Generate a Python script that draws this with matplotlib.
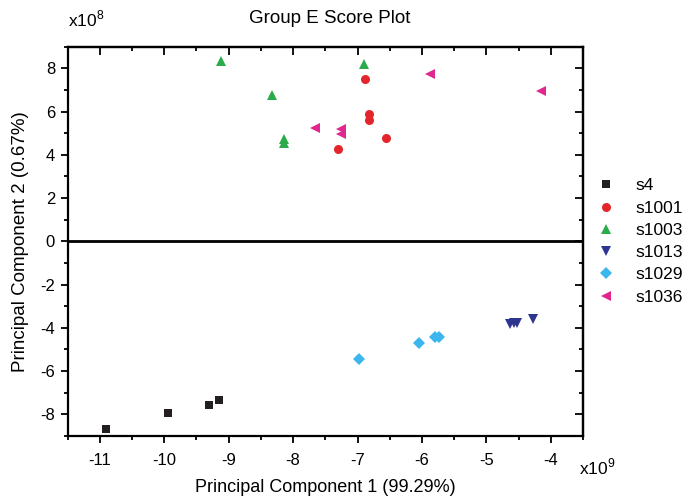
import matplotlib
matplotlib.use("Agg")
import matplotlib.pyplot as plt
from matplotlib.ticker import MultipleLocator

plt.rcParams['font.family'] = ['Liberation Sans', 'DejaVu Sans']
plt.rcParams['mathtext.fontset'] = 'custom'
plt.rcParams['mathtext.rm'] = 'Liberation Sans'

# Data (PC1 in units of 1e9, PC2 in units of 1e8)
s4_x = [-10.91, -9.94, -9.30, -9.15]
s4_y = [-8.67, -7.92, -7.56, -7.33]
s1001_x = [-6.88, -6.82, -6.82, -6.56, -7.30]
s1001_y = [7.51, 5.89, 5.60, 4.78, 4.27]
s1003_x = [-9.12, -6.90, -8.33, -8.14, -8.14]
s1003_y = [8.33, 8.19, 6.76, 4.75, 4.54]
s1013_x = [-4.63, -4.58, -4.53, -4.28]
s1013_y = [-3.81, -3.79, -3.76, -3.61]
s1029_x = [-6.98, -6.05, -5.80, -5.74]
s1029_y = [-5.42, -4.69, -4.43, -4.41]
s1036_x = [-5.88, -4.16, -7.66, -7.25, -7.25]
s1036_y = [7.73, 6.94, 5.25, 5.19, 4.97]

series = [
    ("s4", s4_x, s4_y, "s", "#231f20", 6),
    ("s1001", s1001_x, s1001_y, "o", "#e3262b", 6.5),
    ("s1003", s1003_x, s1003_y, "^", "#2bab4a", 7),
    ("s1013", s1013_x, s1013_y, "v", "#2e3591", 7),
    ("s1029", s1029_x, s1029_y, "D", "#3db6ee", 6),
    ("s1036", s1036_x, s1036_y, "<", "#e0268f", 7),
]

fig = plt.figure(figsize=(6.94, 4.96), dpi=100)
ax = fig.add_axes([0.0973, 0.121, 0.743, 0.785])

for name, xs, ys, m, c, ms in series:
    ax.plot(xs, ys, linestyle='none', marker=m, color=c, markersize=ms,
            markeredgewidth=0, label=name)

ax.axhline(0, color='black', linewidth=2, zorder=1)

ax.set_xlim(-11.5, -3.5)
ax.set_ylim(-9, 9)
ax.xaxis.set_major_locator(MultipleLocator(1))
ax.xaxis.set_minor_locator(MultipleLocator(0.5))
ax.yaxis.set_major_locator(MultipleLocator(2))
ax.yaxis.set_minor_locator(MultipleLocator(1))
ax.set_xticks([-11, -10, -9, -8, -7, -6, -5, -4])
ax.set_xticklabels(['-11', '-10', '-9', '-8', '-7', '-6', '-5', '-4'])
ax.set_yticks([-8, -6, -4, -2, 0, 2, 4, 6, 8])
ax.set_yticklabels(['-8', '-6', '-4', '-2', '0', '2', '4', '6', '8'])

for sp in ax.spines.values():
    sp.set_linewidth(1.6)

ax.tick_params(axis='both', which='both', direction='out', width=1.3,
               labelsize=12, colors='black')
ax.tick_params(which='major', length=5)
ax.tick_params(which='minor', length=3)
ax.tick_params(axis='x', which='major', pad=7)
ax.tick_params(axis='y', which='major', pad=4)

# mirrored inward ticks on top/right
axt = ax.secondary_xaxis('top')
axt.xaxis.set_major_locator(MultipleLocator(1))
axt.xaxis.set_minor_locator(MultipleLocator(0.5))
axt.tick_params(which='both', direction='in', labeltop=False, width=1.3)
axt.tick_params(which='major', length=6)
axt.tick_params(which='minor', length=3)
axr = ax.secondary_yaxis('right')
axr.yaxis.set_major_locator(MultipleLocator(2))
axr.yaxis.set_minor_locator(MultipleLocator(1))
axr.tick_params(which='both', direction='in', labelright=False, width=1.3)
axr.tick_params(which='major', length=6)
axr.tick_params(which='minor', length=3)
for a in (axt, axr):
    for sp in a.spines.values():
        sp.set_linewidth(1.6)

ax.set_xlabel('Principal Component 1 (99.29%)', fontsize=13, labelpad=8)
ax.set_ylabel('Principal Component 2 (0.67%)', fontsize=13.5, labelpad=8)
fig.text(0.475, 0.962, 'Group E Score Plot', fontsize=13.5, ha='center', va='center')
fig.text(0.098, 0.962, r'x10$^{\mathrm{8}}$', fontsize=12.5, ha='left', va='center')
fig.text(0.835, 0.058, r'x10$^{\mathrm{9}}$', fontsize=12.5, ha='left', va='center')

leg = ax.legend(loc='upper left', bbox_to_anchor=(1.005, 0.68), frameon=False,
                fontsize=12.5, handletextpad=0.95, labelspacing=0.41,
                borderaxespad=0, handlelength=1.5)

fig.savefig('out.png', dpi=100)
